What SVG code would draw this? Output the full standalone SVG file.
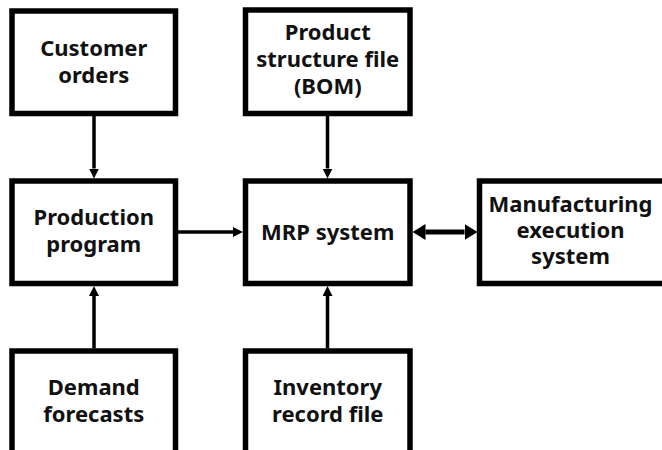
<svg xmlns="http://www.w3.org/2000/svg" width="662" height="450" viewBox="0 0 662 450">
  <style>
    .box { fill: #ffffff; stroke: #000000; stroke-width: 5.5; }
    .lbl { font-family: "Noto Sans", "DejaVu Sans", sans-serif; font-weight: bold; font-size: 22px; fill: #111111; text-anchor: middle; }
    .flow { stroke: #000000; stroke-width: 3.5; fill: none; }
    .bi { stroke: #000000; stroke-width: 5; fill: none; }
  </style>
  <defs>
    <marker id="head" markerUnits="userSpaceOnUse" markerWidth="10" markerHeight="10" refX="0" refY="5" orient="auto">
      <path d="M0,0 L10,5 L0,10 z" fill="#000000"/>
    </marker>
    <marker id="headBig" markerUnits="userSpaceOnUse" markerWidth="13" markerHeight="16" refX="0" refY="8" orient="auto">
      <path d="M0,0 L13,8 L0,16 z" fill="#000000"/>
    </marker>
    <marker id="headBigStart" markerUnits="userSpaceOnUse" markerWidth="13" markerHeight="16" refX="13" refY="8" orient="auto">
      <path d="M13,0 L0,8 L13,16 z" fill="#000000"/>
    </marker>
  </defs>
  <rect width="662" height="450" fill="#ffffff"/>

  <g id="connectors">
    <line class="flow" x1="94" y1="116" x2="94" y2="168.5" marker-end="url(#head)"/>
    <line class="flow" x1="327.5" y1="116" x2="327.5" y2="168.5" marker-end="url(#head)"/>
    <line class="flow" x1="94" y1="348.5" x2="94" y2="296" marker-end="url(#head)"/>
    <line class="flow" x1="327.5" y1="348.5" x2="327.5" y2="296" marker-end="url(#head)"/>
    <line class="flow" x1="178" y1="232" x2="233" y2="232" marker-end="url(#head)"/>
    <line class="bi" x1="425.5" y1="232" x2="464.5" y2="232" marker-start="url(#headBigStart)" marker-end="url(#headBig)"/>
  </g>

  <g id="customer-orders">
    <rect class="box" x="12" y="11" width="163.5" height="102.5"/>
    <text class="lbl" x="93.75" y="56">Customer</text>
    <text class="lbl" x="93.75" y="82.5">orders</text>
  </g>

  <g id="product-structure-file">
    <rect class="box" x="245.5" y="10" width="164.5" height="103.5"/>
    <text class="lbl" x="327.75" y="39.5">Product</text>
    <text class="lbl" x="327.75" y="66.5">structure file</text>
    <text class="lbl" x="327.75" y="93.5">(BOM)</text>
  </g>

  <g id="production-program">
    <rect class="box" x="12" y="181" width="163.5" height="102.5"/>
    <text class="lbl" x="93.75" y="225">Production</text>
    <text class="lbl" x="93.75" y="252">program</text>
  </g>

  <g id="mrp-system">
    <rect class="box" x="245.5" y="181" width="164.5" height="102.5"/>
    <text class="lbl" x="327.75" y="240">MRP system</text>
  </g>

  <g id="manufacturing-execution-system">
    <rect class="box" x="479.5" y="181" width="186" height="102.5"/>
    <text class="lbl" x="570.5" y="211.5">Manufacturing</text>
    <text class="lbl" x="570.5" y="237.5">execution</text>
    <text class="lbl" x="570.5" y="263.5">system</text>
  </g>

  <g id="demand-forecasts">
    <rect class="box" x="12" y="351" width="163.5" height="110"/>
    <text class="lbl" x="93.75" y="395">Demand</text>
    <text class="lbl" x="93.75" y="421.5">forecasts</text>
  </g>

  <g id="inventory-record-file">
    <rect class="box" x="245.5" y="351" width="164.5" height="110"/>
    <text class="lbl" x="327.75" y="395">Inventory</text>
    <text class="lbl" x="327.75" y="421.5">record file</text>
  </g>
</svg>
